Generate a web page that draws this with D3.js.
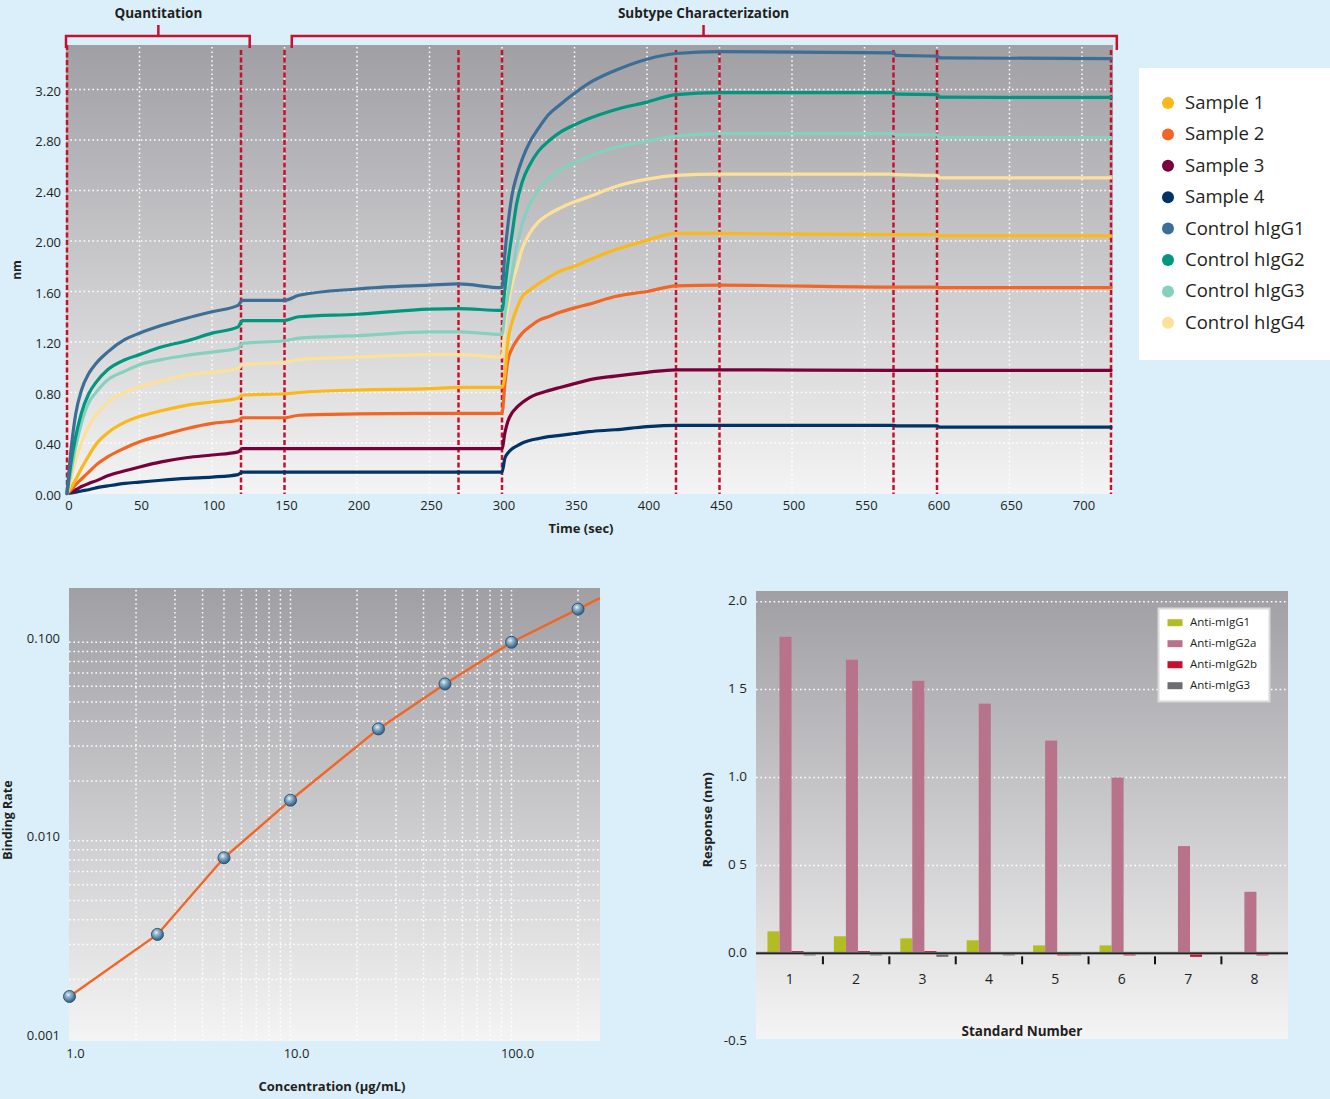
<!DOCTYPE html>
<html>
<head>
<meta charset="utf-8">
<script src="https://cdn.jsdelivr.net/npm/d3@7"></script>
<style>
  html, body { margin: 0; padding: 0; background: #dbeffa; }
  svg { display: block; font-family: "Open Sans", "Noto Sans", sans-serif; }
</style>
</head>
<body>
<svg id="chart" width="1330" height="1099"></svg>
<script>
// ---------------- DATA ----------------
// Top chart: sensorgram (time in sec, response in nm)
const times = [0, 3, 6, 10, 15, 20, 28, 40, 50, 65, 83, 100, 118, 121, 150, 160, 200, 250, 270, 300,
  302, 304, 307, 310, 314, 319, 325, 332, 340, 350, 360, 378, 400, 420, 450, 570, 572, 600, 602, 720];

const seriesNames = ["Sample 1", "Sample 2", "Sample 3", "Sample 4",
  "Control hIgG1", "Control hIgG2", "Control hIgG3", "Control hIgG4"];
const seriesColors = ["#fbb919", "#f26522", "#7a0039", "#003466",
  "#3c6e96", "#009680", "#86d0c0", "#fde09a"];

const sample1 = [0, 0.05, 0.11, 0.20, 0.30, 0.39, 0.48, 0.565, 0.61, 0.655, 0.70, 0.725, 0.755, 0.78, 0.79, 0.80, 0.82, 0.83, 0.84, 0.84,
  0.94, 1.20, 1.36, 1.46, 1.56, 1.61, 1.66, 1.71, 1.76, 1.80, 1.85, 1.93, 2.005, 2.06, 2.06, 2.05, 2.05, 2.05, 2.04, 2.04];
const sample2 = [0, 0.03, 0.07, 0.115, 0.17, 0.225, 0.29, 0.36, 0.41, 0.46, 0.515, 0.555, 0.58, 0.60, 0.60, 0.62, 0.63, 0.635, 0.635, 0.635,
  0.87, 1.05, 1.15, 1.21, 1.27, 1.32, 1.37, 1.40, 1.435, 1.47, 1.50, 1.56, 1.60, 1.645, 1.65, 1.635, 1.635, 1.635, 1.63, 1.63];
const sample3 = [0, 0.015, 0.03, 0.055, 0.08, 0.10, 0.14, 0.18, 0.21, 0.25, 0.285, 0.305, 0.33, 0.355, 0.355, 0.355, 0.355, 0.355, 0.355, 0.355,
  0.48, 0.57, 0.64, 0.68, 0.72, 0.76, 0.79, 0.815, 0.84, 0.87, 0.90, 0.93, 0.96, 0.98, 0.98, 0.975, 0.975, 0.975, 0.975, 0.975];
const sample4 = [0, 0.005, 0.01, 0.02, 0.03, 0.045, 0.06, 0.08, 0.09, 0.105, 0.12, 0.13, 0.15, 0.17, 0.17, 0.17, 0.17, 0.17, 0.17, 0.17,
  0.28, 0.32, 0.355, 0.375, 0.40, 0.42, 0.435, 0.45, 0.46, 0.475, 0.49, 0.505, 0.53, 0.54, 0.54, 0.54, 0.535, 0.535, 0.525, 0.525];
const controlG1 = [0, 0.37, 0.63, 0.82, 0.95, 1.03, 1.12, 1.22, 1.27, 1.33, 1.39, 1.44, 1.49, 1.53, 1.53, 1.57, 1.62, 1.65, 1.66, 1.63,
  1.90, 2.12, 2.37, 2.51, 2.65, 2.78, 2.89, 3.00, 3.08, 3.17, 3.25, 3.35, 3.44, 3.485, 3.50, 3.49, 3.47, 3.465, 3.45, 3.445];
const controlG2 = [0, 0.26, 0.45, 0.64, 0.79, 0.88, 0.98, 1.06, 1.10, 1.16, 1.21, 1.27, 1.32, 1.37, 1.37, 1.40, 1.42, 1.46, 1.465, 1.45,
  1.62, 1.82, 2.06, 2.29, 2.47, 2.60, 2.71, 2.79, 2.86, 2.92, 2.97, 3.04, 3.10, 3.16, 3.175, 3.175, 3.163, 3.16, 3.14, 3.137];
const controlG3 = [0, 0.19, 0.37, 0.56, 0.72, 0.80, 0.90, 0.97, 1.02, 1.06, 1.095, 1.12, 1.15, 1.19, 1.21, 1.23, 1.25, 1.28, 1.28, 1.26,
  1.42, 1.56, 1.75, 1.95, 2.14, 2.29, 2.40, 2.49, 2.56, 2.62, 2.67, 2.74, 2.79, 2.83, 2.85, 2.85, 2.84, 2.84, 2.82, 2.82];
const controlG4 = [0, 0.12, 0.26, 0.40, 0.53, 0.62, 0.72, 0.80, 0.845, 0.89, 0.94, 0.96, 0.99, 1.02, 1.04, 1.06, 1.08, 1.10, 1.10, 1.08,
  1.32, 1.48, 1.66, 1.78, 1.94, 2.06, 2.15, 2.21, 2.26, 2.31, 2.35, 2.43, 2.49, 2.52, 2.53, 2.53, 2.525, 2.52, 2.50, 2.50];
const seriesValues = [sample1, sample2, sample3, sample4, controlG1, controlG2, controlG3, controlG4];

const phaseBoundaries = [0, 120, 150, 270, 300, 420, 450, 570, 600, 720];
const timeTicks = [0, 50, 100, 150, 200, 250, 300, 350, 400, 450, 500, 550, 600, 650, 700];
const nmTicks = [0, 0.4, 0.8, 1.2, 1.6, 2.0, 2.4, 2.8, 3.2];

// Bottom-left: standard curve (log-log)
const concentrations = [1, 2.5, 5, 10, 25, 50, 100, 200];
const bindingRates = [0.00164, 0.00337, 0.0082, 0.0160, 0.0366, 0.0617, 0.100, 0.147];
const fitConc = [1, 2.5, 5, 10, 25, 50, 100, 200, 251];
const fitRate = [0.00164, 0.00337, 0.0082, 0.0160, 0.0366, 0.0617, 0.100, 0.147, 0.167];
const concTicks = [1, 10, 100];
const concTickLabels = ["1.0", "10.0", "100.0"];
const rateTicks = [0.001, 0.01, 0.1];
const rateTickLabels = ["0.001", "0.010", "0.100"];

// Bottom-right: isotyping bars
const standards = ["1", "2", "3", "4", "5", "6", "7", "8"];
const barSeries = ["Anti-mIgG1", "Anti-mIgG2a", "Anti-mIgG2b", "Anti-mIgG3"];
const barColors = ["#b1bd22", "#b8728a", "#c8102e", "#6d6e71"];
const antiIgG1 = [0.125, 0.097, 0.085, 0.074, 0.045, 0.045, 0.007, 0.004];
const antiIgG2a = [1.80, 1.67, 1.55, 1.42, 1.21, 1.00, 0.61, 0.35];
const antiIgG2b = [0.013, 0.013, 0.013, 0.007, -0.012, -0.012, -0.02, -0.012];
const antiIgG3 = [-0.012, -0.012, -0.02, -0.012, -0.012, -0.005, -0.005, -0.005];
const barValues = [antiIgG1, antiIgG2a, antiIgG2b, antiIgG3];
const responseTicks = [-0.5, 0, 0.5, 1.0, 1.5, 2.0];
const responseTickLabels = ["-0.5", "0.0", "0 5", "1.0", "1 5", "2.0"];

// ---------------- DRAW ----------------
const svg = d3.select("#chart");
const defs = svg.append("defs");
const TXT = "#231f20";
const RED = "#c8102e";

function bgGradient(id, y1, y2) {
  const g = defs.append("linearGradient").attr("id", id)
    .attr("gradientUnits", "userSpaceOnUse").attr("x1", 0).attr("x2", 0).attr("y1", y1).attr("y2", y2);
  g.append("stop").attr("offset", "0%").attr("stop-color", "#a09fa4");
  g.append("stop").attr("offset", "100%").attr("stop-color", "#f4f4f4");
}
bgGradient("bgTop", 45, 494);
bgGradient("bgLog", 588, 1041);
bgGradient("bgBar", 591, 1039);

const rg = defs.append("radialGradient").attr("id", "ball").attr("cx", "40%").attr("cy", "35%").attr("r", "65%");
rg.append("stop").attr("offset", "0%").attr("stop-color", "#e8f1f7");
rg.append("stop").attr("offset", "35%").attr("stop-color", "#8db0c9");
rg.append("stop").attr("offset", "100%").attr("stop-color", "#2f5c80");

const gridDash = "1.6 2.8";

// ===== TOP CHART =====
const xT = d3.scaleLinear().domain([0, 720]).range([67, 1111]);
const yT = d3.scaleLinear().domain([0, 3.2]).range([493.5, 89.5]);
const topG = svg.append("g");
topG.append("rect").attr("x", 66).attr("y", 45).attr("width", 1047).attr("height", 449).attr("fill", "url(#bgTop)");

// grid
topG.selectAll(".gx").data(timeTicks.filter(d => d > 0)).join("line")
  .attr("x1", d => xT(d)).attr("x2", d => xT(d)).attr("y1", 47).attr("y2", 494)
  .attr("stroke", "#fff").attr("stroke-width", 1.5).attr("stroke-dasharray", gridDash);
topG.selectAll(".gy").data(nmTicks.filter(d => d > 0)).join("line")
  .attr("x1", 66).attr("x2", 1113).attr("y1", d => yT(d)).attr("y2", d => yT(d))
  .attr("stroke", "#fff").attr("stroke-width", 1.5).attr("stroke-dasharray", gridDash);

// phase lines
topG.selectAll(".phase").data(phaseBoundaries).join("line")
  .attr("x1", d => xT(d)).attr("x2", d => xT(d)).attr("y1", d => d === 0 ? 45 : 50).attr("y2", 494)
  .attr("stroke", RED).attr("stroke-width", 2.5).attr("stroke-dasharray", "5 2.5");

// series lines
const lineT = d3.line().x((d, i) => xT(times[i])).y(d => yT(d)).curve(d3.curveMonotoneX);
const order = [3, 2, 1, 0, 7, 6, 5, 4];
order.forEach(i => {
  topG.append("path").datum(seriesValues[i]).attr("d", lineT)
    .attr("fill", "none").attr("stroke", seriesColors[i]).attr("stroke-width", 3.2)
    .attr("stroke-linejoin", "round").attr("stroke-linecap", "round");
});

// axes labels
topG.selectAll(".ytl").data(nmTicks).join("text")
  .attr("x", 61).attr("y", d => yT(d) + 3).attr("text-anchor", "end").attr("dominant-baseline", "middle")
  .attr("font-size", 13).attr("fill", TXT).text(d => d.toFixed(2));
topG.selectAll(".xtl").data(timeTicks).join("text")
  .attr("x", d => xT(d) + 2).attr("y", 507).attr("text-anchor", "middle").attr("dominant-baseline", "middle")
  .attr("font-size", 13).attr("fill", TXT).text(d => d);
topG.append("text").attr("x", 581).attr("y", 530).attr("text-anchor", "middle").attr("dominant-baseline", "middle")
  .attr("font-size", 13).attr("font-weight", "bold").attr("fill", TXT).text("Time (sec)");
topG.append("text").attr("transform", "translate(18,270) rotate(-90)").attr("text-anchor", "middle")
  .attr("dominant-baseline", "middle").attr("font-size", 12).attr("font-weight", "bold").attr("fill", TXT).text("nm");

// brackets
function bracket(x1, x2, xc, yR, label) {
  const p = d3.path();
  p.moveTo(x1, 48); p.lineTo(x1, 36); p.lineTo(x2, 36); p.lineTo(x2, yR);
  p.moveTo(xc, 36); p.lineTo(xc, 25);
  topG.append("path").attr("d", p.toString()).attr("fill", "none").attr("stroke", RED).attr("stroke-width", 2.5);
  topG.append("text").attr("x", xc).attr("y", 14).attr("text-anchor", "middle").attr("dominant-baseline", "middle")
    .attr("font-size", 13.5).attr("font-weight", "bold").attr("fill", TXT).text(label);
}
bracket(xT(0) - 1, xT(126), xT(63), 48, "Quantitation");
bracket(xT(155), xT(724), xT(439), 50, "Subtype Characterization");

// legend
const leg = svg.append("g");
leg.append("rect").attr("x", 1139).attr("y", 68).attr("width", 195).attr("height", 292).attr("fill", "#fff");
seriesNames.forEach((n, i) => {
  const y = 103 + i * 31.4;
  leg.append("circle").attr("cx", 1168).attr("cy", y).attr("r", 6).attr("fill", seriesColors[i]);
  leg.append("text").attr("x", 1185).attr("y", y + 1).attr("dominant-baseline", "middle")
    .attr("font-size", 18.5).attr("fill", TXT).text(n);
});

// ===== BOTTOM LEFT: LOG CHART =====
const xL = d3.scaleLog().domain([1, 100]).range([69.5, 511.5]);
const yL = d3.scaleLog().domain([0.001, 0.1]).range([1039.1, 642.3]);
const lg = svg.append("g");
lg.append("rect").attr("x", 69).attr("y", 588).attr("width", 531).attr("height", 453).attr("fill", "url(#bgLog)");
const xGrid = [2, 3, 4, 5, 6, 7, 8, 9, 10, 20, 30, 40, 50, 60, 70, 80, 90, 100, 200];
const yGrid = [0.002, 0.003, 0.004, 0.005, 0.006, 0.007, 0.008, 0.009, 0.01,
  0.02, 0.03, 0.04, 0.05, 0.06, 0.07, 0.08, 0.09, 0.1];
lg.selectAll(".lgx").data(xGrid).join("line")
  .attr("x1", d => xL(d)).attr("x2", d => xL(d)).attr("y1", 590).attr("y2", 1041)
  .attr("stroke", "#fff").attr("stroke-width", 1.5).attr("stroke-dasharray", gridDash);
lg.selectAll(".lgy").data(yGrid).join("line")
  .attr("x1", 69).attr("x2", 600).attr("y1", d => yL(d)).attr("y2", d => yL(d))
  .attr("stroke", "#fff").attr("stroke-width", 1.5).attr("stroke-dasharray", gridDash);

const lineL = d3.line().x((d, i) => xL(fitConc[i])).y(d => yL(d));
lg.append("path").datum(fitRate).attr("d", lineL).attr("fill", "none")
  .attr("stroke", "#f26522").attr("stroke-width", 2.4);
lg.selectAll(".pt").data(bindingRates).join("circle")
  .attr("cx", (d, i) => xL(concentrations[i])).attr("cy", d => yL(d)).attr("r", 6)
  .attr("fill", "url(#ball)").attr("stroke", "#2b5575").attr("stroke-width", 1);

lg.selectAll(".lxt").data(concTicks).join("text")
  .attr("x", d => xL(d) + 6).attr("y", 1055).attr("text-anchor", "middle").attr("dominant-baseline", "middle")
  .attr("font-size", 13).attr("fill", TXT).text((d, i) => concTickLabels[i]);
lg.selectAll(".lyt").data(rateTicks).join("text")
  .attr("x", 60).attr("y", d => yL(d) - 3).attr("text-anchor", "end").attr("dominant-baseline", "middle")
  .attr("font-size", 13).attr("fill", TXT).text((d, i) => rateTickLabels[i]);
lg.append("text").attr("x", 332).attr("y", 1088).attr("text-anchor", "middle").attr("dominant-baseline", "middle")
  .attr("font-size", 13).attr("font-weight", "bold").attr("fill", TXT).text("Concentration (µg/mL)");
lg.append("text").attr("transform", "translate(9,820) rotate(-90)").attr("text-anchor", "middle")
  .attr("dominant-baseline", "middle").attr("font-size", 12.5).attr("font-weight", "bold").attr("fill", TXT).text("Binding Rate");

// ===== BOTTOM RIGHT: BAR CHART =====
const xB = d3.scaleBand().domain(standards).range([756.5, 1287.8]).padding(0);
const yB = d3.scaleLinear().domain([-0.5, 2.0]).range([1041.2, 601.7]);
const bw = xB.bandwidth();
const xInner = d3.scaleBand().domain(barSeries).range([bw * 0.165, bw * 0.89]).padding(0);
const bc = svg.append("g");
bc.append("rect").attr("x", 756).attr("y", 591).attr("width", 532).attr("height", 448).attr("fill", "url(#bgBar)");
bc.selectAll(".bgy").data(responseTicks.filter(d => d > 0)).join("line")
  .attr("x1", 756).attr("x2", 1288).attr("y1", d => yB(d)).attr("y2", d => yB(d))
  .attr("stroke", "#fff").attr("stroke-width", 1.5).attr("stroke-dasharray", gridDash);

barSeries.forEach((s, si) => {
  bc.selectAll(".bar" + si).data(barValues[si]).join("rect")
    .attr("x", (d, i) => xB(standards[i]) + xInner(s))
    .attr("width", xInner.bandwidth())
    .attr("y", d => yB(Math.max(0, d)))
    .attr("height", d => Math.abs(yB(d) - yB(0)))
    .attr("fill", barColors[si]);
});
// zero line
bc.append("line").attr("x1", 756).attr("x2", 1288).attr("y1", yB(0)).attr("y2", yB(0))
  .attr("stroke", "#8a8a8c").attr("stroke-width", 3);
bc.append("line").attr("x1", 756).attr("x2", 1288).attr("y1", yB(0)).attr("y2", yB(0))
  .attr("stroke", "#222").attr("stroke-width", 1.5);
// group separators
bc.selectAll(".sep").data(standards.slice(1)).join("line")
  .attr("x1", d => xB(d)).attr("x2", d => xB(d)).attr("y1", yB(0) + 3).attr("y2", yB(0) + 11)
  .attr("stroke", "#111").attr("stroke-width", 2);
bc.selectAll(".bxt").data(standards).join("text")
  .attr("x", d => xB(d) + bw / 2).attr("y", 980).attr("text-anchor", "middle").attr("dominant-baseline", "middle")
  .attr("font-size", 14).attr("fill", TXT).text(d => d);
bc.selectAll(".byt").data(responseTicks).join("text")
  .attr("x", 747).attr("y", d => yB(d)).attr("text-anchor", "end").attr("dominant-baseline", "middle")
  .attr("font-size", 13.5).attr("fill", TXT).text((d, i) => responseTickLabels[i]);
bc.append("text").attr("x", 1022).attr("y", 1032).attr("text-anchor", "middle").attr("dominant-baseline", "middle")
  .attr("font-size", 13.5).attr("font-weight", "bold").attr("fill", TXT).text("Standard Number");
bc.append("text").attr("transform", "translate(709,820) rotate(-90)").attr("text-anchor", "middle")
  .attr("dominant-baseline", "middle").attr("font-size", 13).attr("font-weight", "bold").attr("fill", TXT).text("Response (nm)");

// bar legend
const bl = bc.append("g");
bl.append("rect").attr("x", 1158.5).attr("y", 608.5).attr("width", 111).attr("height", 93)
  .attr("fill", "#fff").attr("stroke", "#d9d9d9").attr("stroke-width", 2);
barSeries.forEach((s, i) => {
  const y = 622.7 + i * 21;
  bl.append("rect").attr("x", 1167.5).attr("y", y - 3.5).attr("width", 15).attr("height", 7).attr("fill", barColors[i]);
  bl.append("text").attr("x", 1190).attr("y", y).attr("dominant-baseline", "middle")
    .attr("font-size", 11.5).attr("fill", TXT).text(s);
});
</script>
</body>
</html>
